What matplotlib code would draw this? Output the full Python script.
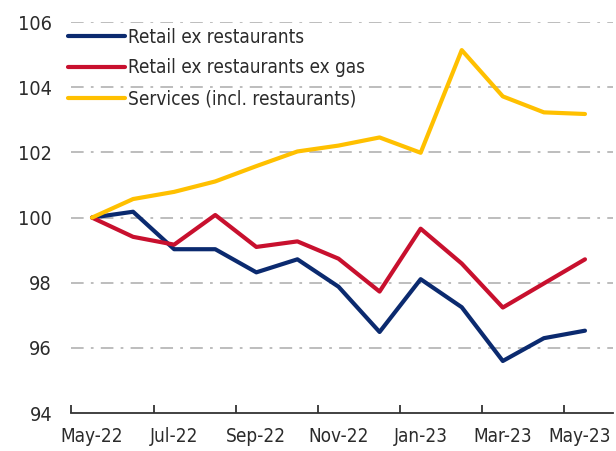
import matplotlib
matplotlib.use("Agg")
import matplotlib.pyplot as plt
import matplotlib.transforms as mtransforms
from matplotlib import font_manager

# monthly index, May-22 = 100
months = ["May-22", "Jun-22", "Jul-22", "Aug-22", "Sep-22", "Oct-22", "Nov-22",
          "Dec-22", "Jan-23", "Feb-23", "Mar-23", "Apr-23", "May-23"]
retail = [100.0, 100.18, 99.03, 99.03, 98.32, 98.72, 97.88,
          96.49, 98.11, 97.25, 95.60, 96.30, 96.53]
retail_ex_gas = [100.0, 99.41, 99.17, 100.08, 99.10, 99.27, 98.74,
                 97.73, 99.66, 98.59, 97.24, 97.98, 98.72]
services = [100.0, 100.57, 100.79, 101.11, 101.58, 102.03, 102.21,
            102.46, 101.99, 105.14, 103.72, 103.23, 103.18]
yticks = [94, 96, 98, 100, 102, 104, 106]

# look for a condensed face, like the original's narrow font
cands = [f for f in font_manager.fontManager.ttflist
         if ('narrow' in f.fname.lower() or 'condensed' in f.fname.lower())
         and 'bold' not in f.fname.lower() and 'oblique' not in f.fname.lower()
         and 'italic' not in f.fname.lower()]
if cands:
    cands.sort(key=lambda f: (0 if 'Liberation' in f.name else 1))
    fp = font_manager.FontProperties(fname=cands[0].fname)
else:
    fp = font_manager.FontProperties(family='Liberation Sans')

fs = 13.6
txt = '#2b2b2b'
fig = plt.figure(figsize=(6.16, 4.51), dpi=100)
ax = fig.add_axes([0.116, 0.084, 0.879, 0.867])

x = list(range(len(months)))
ax.plot(x, retail, color='#0b2a6f', lw=3, label='Retail ex restaurants', solid_capstyle='round')
ax.plot(x, retail_ex_gas, color='#c8102e', lw=3, label='Retail ex restaurants ex gas', solid_capstyle='round')
ax.plot(x, services, color='#ffc000', lw=3, label='Services (incl. restaurants)', solid_capstyle='round')

ax.set_xlim(-0.5, 12.68)
ax.set_ylim(94, 106)
ax.set_yticks(yticks)
ax.set_yticklabels([str(v) for v in yticks], fontproperties=fp, fontsize=fs + 0.6, color=txt)
ax.tick_params(axis='y', length=0, pad=14)

ax.set_xticks(x[::2])
ax.set_xticklabels(months[::2], fontproperties=fp, fontsize=fs, color=txt)
ax.set_xticks([i - 0.5 for i in x[::2][:-1]] + [11.5], minor=True)
ax.tick_params(axis='x', which='major', length=0, pad=10)
ax.tick_params(axis='x', which='minor', length=6, direction='in', width=1.3, color='#333333')

# last label sits a little to the left so it stays inside the figure
last = ax.get_xticklabels()[-1]
last.set_transform(last.get_transform() +
                   mtransforms.ScaledTranslation(-5 / 100, 0, fig.dpi_scale_trans))

for s in ['left', 'right', 'top']:
    ax.spines[s].set_visible(False)
ax.spines['bottom'].set_color('#333333')
ax.spines['bottom'].set_linewidth(1.3)

for v in yticks[1:]:
    ax.axhline(v, color='#b8b8b8', lw=1.3, dashes=(7, 4, 1.5, 4), zorder=0)

leg_fp = fp.copy()
leg_fp.set_size(fs)
leg = ax.legend(loc='upper left', bbox_to_anchor=(-0.02, 1.005), frameon=False,
                prop=leg_fp, handlelength=3.0, handletextpad=0.15,
                labelspacing=0.62, borderaxespad=0)
for t in leg.get_texts():
    t.set_color(txt)

fig.savefig('out.png', dpi=100)
